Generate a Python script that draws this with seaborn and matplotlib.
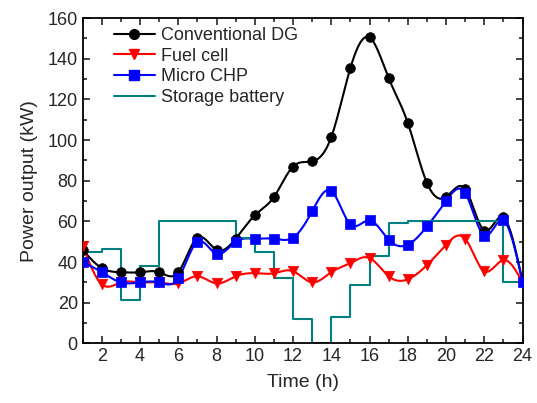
import matplotlib
matplotlib.use('Agg')
import numpy as np
import pandas as pd
import seaborn as sns
import matplotlib.pyplot as plt
from matplotlib.lines import Line2D
from matplotlib.ticker import MultipleLocator

# hourly data (h = 1..24)
hours = list(range(1, 25))
conventional_dg = [46, 37, 35, 35, 35, 35, 52, 46, 51.5, 63, 72, 87,
                   89.5, 101.5, 135.5, 150.5, 130.5, 108.5, 79, 72, 76, 55.5, 62, 30.5]
fuel_cell = [48, 29, 30, 30, 30, 29.5, 33, 29.5, 33, 34.5, 34.5, 35.5,
             30, 35, 39.5, 42, 33, 31.5, 38.5, 48.5, 51.5, 35.5, 41, 30]
micro_chp = [40, 35, 30, 30, 30, 32, 50, 44, 50, 51.5, 51.5, 52,
             65, 75, 58.5, 60.5, 51, 48.5, 57.5, 70, 74, 53, 60.5, 30]
storage_battery = [28, 45, 46.5, 21.5, 38, 60, 60, 60, 60, 52, 45, 32,
                   12, 0, 13, 28.5, 43, 59, 60, 60, 60, 60, 60, 30]


def smooth(x, y, n=20):
    # natural cubic spline through the points (like Origin's spline connect)
    x = np.asarray(x, float)
    y = np.asarray(y, float)
    k = len(x)
    h = np.diff(x)
    A = np.zeros((k, k))
    b = np.zeros(k)
    A[0, 0] = A[-1, -1] = 1
    for i in range(1, k - 1):
        A[i, i - 1] = h[i - 1]
        A[i, i] = 2 * (h[i - 1] + h[i])
        A[i, i + 1] = h[i]
        b[i] = 6 * ((y[i + 1] - y[i]) / h[i] - (y[i] - y[i - 1]) / h[i - 1])
    M = np.linalg.solve(A, b)
    xs, ys = [], []
    for i in range(k - 1):
        t = np.linspace(x[i], x[i + 1], n, endpoint=(i == k - 2))
        a = x[i + 1] - t
        c = t - x[i]
        s = (M[i] * a ** 3 + M[i + 1] * c ** 3) / (6 * h[i]) \
            + (y[i] / h[i] - M[i] * h[i] / 6) * a + (y[i + 1] / h[i] - M[i + 1] * h[i] / 6) * c
        xs.extend(t)
        ys.extend(s)
    return pd.DataFrame({'x': xs, 'y': ys})


sns.set_style('ticks')
plt.rcParams['font.family'] = ['Liberation Sans', 'DejaVu Sans']
plt.rcParams['font.size'] = 13

fig = plt.figure(figsize=(5.37, 4.03), dpi=100)
ax = fig.add_axes([0.154, 0.148, 0.819, 0.807])

series = [
    ('Conventional DG', conventional_dg, 'black', 'o', 7),
    ('Fuel cell', fuel_cell, '#FF0000', 'v', 7.5),
    ('Micro CHP', micro_chp, '#0000FF', 's', 6.5),
]

handles = []
for label, vals, color, marker, ms in series:
    curve = smooth(hours, vals)
    sns.lineplot(data=curve, x='x', y='y', ax=ax, color=color, linewidth=1.5,
                 sort=False, estimator=None)
    pts = pd.DataFrame({'x': hours, 'y': vals})
    sns.scatterplot(data=pts, x='x', y='y', ax=ax, color=color, marker=marker,
                    s=ms ** 2, edgecolor=color, linewidth=0.5, zorder=3)
    handles.append(Line2D([], [], color=color, marker=marker, markersize=ms,
                          linewidth=1.5, label=label))

bat = pd.DataFrame({'x': hours, 'y': storage_battery})
sns.lineplot(data=bat, x='x', y='y', ax=ax, color='#008080', linewidth=1.5,
             drawstyle='steps-pre', sort=False, estimator=None)
handles.append(Line2D([], [], color='#008080', linewidth=1.5, label='Storage battery'))

ax.set_xlim(1, 24)
ax.set_ylim(0, 160)
ax.xaxis.set_major_locator(MultipleLocator(2))
ax.xaxis.set_minor_locator(MultipleLocator(1))
ax.yaxis.set_major_locator(MultipleLocator(20))
ax.yaxis.set_minor_locator(MultipleLocator(10))
ax.tick_params(which='both', direction='in', top=True, right=True, labelsize=13, width=1.2)
ax.tick_params(which='major', length=5)
ax.tick_params(which='minor', length=3)
ax.set_xticks([2, 4, 6, 8, 10, 12, 14, 16, 18, 20, 22, 24])
for sp in ax.spines.values():
    sp.set_linewidth(1.3)
    sp.set_color('black')

ax.set_xlabel('Time (h)', fontsize=14, labelpad=6)
ax.set_ylabel('Power output (kW)', fontsize=14, labelpad=7)

ax.legend(handles=handles, loc='upper left', bbox_to_anchor=(0.05, 1.0), frameon=False,
          fontsize=13, handlelength=2.3, labelspacing=0.2, handletextpad=0.3,
          borderaxespad=0.1)

fig.savefig('out.png', dpi=100)
